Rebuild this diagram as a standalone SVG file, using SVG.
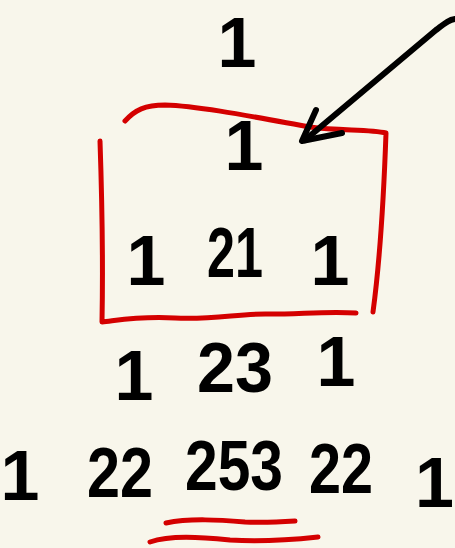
<svg xmlns="http://www.w3.org/2000/svg" width="455" height="548" viewBox="0 0 455 548">
<style>
.n{font-family:"Liberation Sans","Noto Sans",sans-serif;font-weight:bold;font-size:70px;fill:#000;text-anchor:middle}
.red{fill:none;stroke:#d40000;stroke-width:5;stroke-linecap:round;stroke-linejoin:round}
.ink{fill:none;stroke:#000;stroke-width:6;stroke-linecap:round;stroke-linejoin:round}
</style>
<rect width="455" height="548" fill="#f8f6eb"/>
<g id="row0"><text class="n" x="237" y="67">1</text></g>
<g id="row1"><text class="n" x="244" y="170">1</text></g>
<g id="row2">
<text class="n" x="146" y="285">1</text>
<text class="n" x="235" y="277" textLength="56" lengthAdjust="spacingAndGlyphs">21</text>
<text class="n" x="330" y="285">1</text>
</g>
<g id="row3">
<text class="n" x="134" y="400">1</text>
<text class="n" x="235" y="392" textLength="76" lengthAdjust="spacingAndGlyphs">23</text>
<text class="n" x="336" y="386">1</text>
</g>
<g id="row4">
<text class="n" x="20" y="500">1</text>
<text class="n" x="120" y="497" textLength="66" lengthAdjust="spacingAndGlyphs">22</text>
<text class="n" x="234" y="490" textLength="98" lengthAdjust="spacingAndGlyphs">253</text>
<text class="n" x="341" y="493" textLength="64" lengthAdjust="spacingAndGlyphs">22</text>
<text class="n" x="454" y="507" style="text-anchor:end">1</text>
</g>
<g id="highlight-box">
<path class="red" d="M125,121 C135,110 145,105 165,105 C200,106 260,118 310,127 C340,131 370,129 386,133 C384,190 380,260 373,312"/>
<path class="red" d="M100,141 C102,200 103,270 102,322 C120,320 140,316 175,318 C215,320 240,313 270,314 C300,314 330,311 356,313"/>
</g>
<g id="connectors">
<path class="ink" d="M455,19 C448,20 444,24 436,30 L305,140"/>
<path class="ink" d="M316,110 L302,141 L342,133"/>
</g>
<g id="underline">
<path class="red" d="M166,523 C190,518 220,520 245,522 C265,523 280,522 295,521"/>
<path class="red" d="M150,542 C170,535 200,537 230,540 C260,542 290,540 318,537"/>
</g>
</svg>
